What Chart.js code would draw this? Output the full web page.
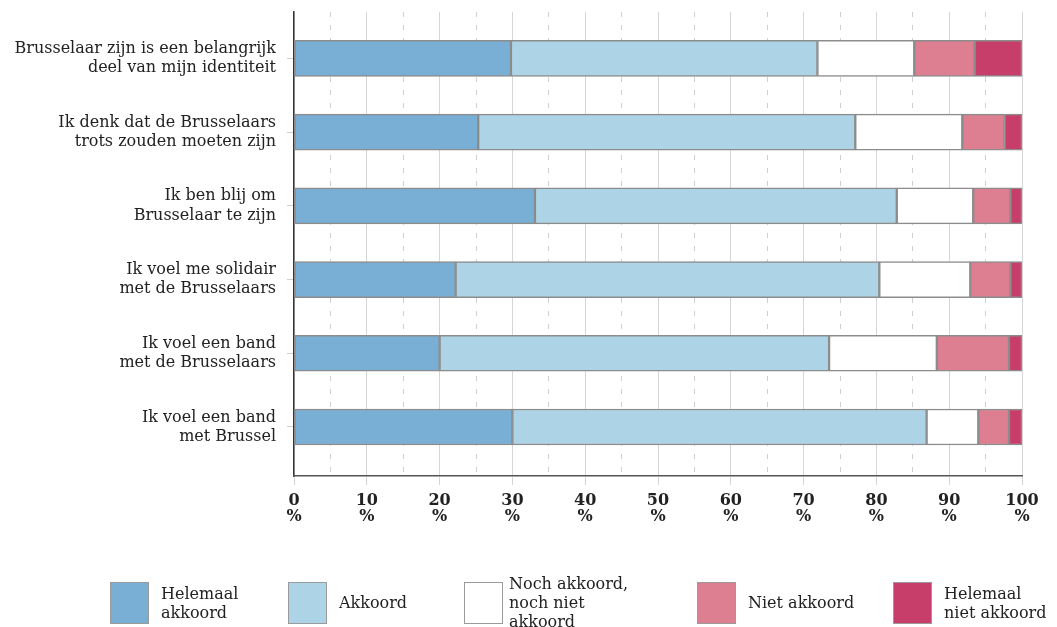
<!DOCTYPE html>
<html>
<head>
<meta charset="utf-8">
<script src="https://cdn.jsdelivr.net/npm/chart.js@4"></script>
<style>
  html, body { margin: 0; padding: 0; background: #fff; }
  #wrap { position: relative; width: 1057px; height: 627px; }
  #legend { position: absolute; left: 0; top: 0; width: 1057px; height: 627px; pointer-events: none; }
  .item { position: absolute; top: 581px; display: flex; align-items: center; height: 43px; }
  .box { width: 39px; height: 42px; border: 1px solid #9a9a9a; box-sizing: border-box; flex: none; }
  .txt { margin-left: 12px; font-family: "DejaVu Serif", serif; font-size: 16px; line-height: 19px; color: #222; }
</style>
</head>
<body>
<div id="wrap">
  <canvas id="chart"></canvas>
  <div id="legend"></div>
</div>
<script>
const statements = [
  ["Brusselaar zijn is een belangrijk", "deel van mijn identiteit"],
  ["Ik denk dat de Brusselaars", "trots zouden moeten zijn"],
  ["Ik ben blij om", "Brusselaar te zijn"],
  ["Ik voel me solidair", "met de Brusselaars"],
  ["Ik voel een band", "met de Brusselaars"],
  ["Ik voel een band", "met Brussel"]
];

const seriesNames = [
  ["Helemaal", "akkoord"],
  ["Akkoord"],
  ["Noch akkoord,", "noch niet", "akkoord"],
  ["Niet akkoord"],
  ["Helemaal", "niet akkoord"]
];

const helemaalAkkoord = [29.8, 25.3, 33.1, 22.2, 20.0, 30.0];
const akkoord = [42.1, 51.8, 49.7, 58.2, 53.5, 56.9];
const neutraal = [13.3, 14.7, 10.5, 12.5, 14.8, 7.1];
const nietAkkoord = [8.3, 5.8, 5.1, 5.5, 9.9, 4.2];
const helemaalNiet = [6.5, 2.4, 1.6, 1.6, 1.8, 1.8];

const xTicks = [0, 10, 20, 30, 40, 50, 60, 70, 80, 90, 100];

const colors = ["#79aed5", "#acd4e6", "#ffffff", "#dd7f91", "#c73e6a"];
const legendLeft = [110, 288, 464, 697, 893];

const serif = "'DejaVu Serif', serif";

const allSeries = [helemaalAkkoord, akkoord, neutraal, nietAkkoord, helemaalNiet];

const datasets = allSeries.map((vals, k) => ({
  label: seriesNames[k].join(" "),
  data: vals.map((v, i) => ({ x: v, y: i })),
  backgroundColor: colors[k],
  borderColor: "#8c8c8c",
  borderWidth: 1.5,
  borderSkipped: false,
  barThickness: 36
}));

new Chart(document.getElementById("chart"), {
  type: "bar",
  data: { datasets },
  options: {
    indexAxis: "y",
    responsive: true,
    maintainAspectRatio: false,
    animation: false,
    layout: { padding: { top: 12, right: 35, bottom: 0, left: 0 } },
    plugins: { legend: { display: false }, tooltip: { enabled: false } },
    scales: {
      y: {
        type: "linear",
        reverse: true,
        stacked: true,
        offset: false,
        min: -0.63,
        max: 5.665,
        afterBuildTicks: (scale) => { scale.ticks = statements.map((_, i) => ({ value: i })); },
        afterFit: (scale) => {
          scale.width = 294;
          // labels sit well inside the plot, no extra room needed above/below
          scale.paddingTop = 0;
          scale.paddingBottom = 0;
        },
        ticks: {
          callback: (v) => statements[v] || "",
          font: { family: serif, size: 16, lineHeight: 1.2 },
          color: "#222",
          padding: 11
        },
        grid: { offset: false, drawOnChartArea: false, drawTicks: true, tickLength: 7, tickColor: "#cfcfcf", tickWidth: 1 },
        border: { display: true, color: "#333", width: 1.5 }
      },
      x: {
        type: "linear",
        stacked: true,
        min: 0,
        max: 100,
        afterBuildTicks: (scale) => { scale.ticks = xTicks.map(v => ({ value: v })); },
        afterFit: (scale) => { scale.height = 151; },
        ticks: {
          autoSkip: false,
          maxRotation: 0,
          callback: (v) => [String(v), "%"],
          font: { family: serif, size: 16, weight: "bold", lineHeight: 1.05 },
          color: "#222",
          padding: 7
        },
        grid: { color: "#d6d6d6", lineWidth: 1, tickLength: 9, tickColor: "#d6d6d6" },
        border: { display: true, color: "#555", width: 1.5 }
      },
      x2: {
        type: "linear",
        position: "top",
        min: 0,
        max: 100,
        afterBuildTicks: (scale) => { scale.ticks = xTicks.slice(0, -1).map(v => ({ value: v + 5 })); },
        afterFit: (scale) => { scale.height = 0; },
        ticks: { display: false },
        grid: { color: "#cfcfcf", lineWidth: 1, drawTicks: false },
        border: { display: false, dash: [5, 8] }
      }
    }
  }
});

// legend below the plot, built from the series names and colours
const legendEl = document.getElementById("legend");
seriesNames.forEach((lines, k) => {
  const item = document.createElement("div");
  item.className = "item";
  item.style.left = legendLeft[k] + "px";
  const box = document.createElement("div");
  box.className = "box";
  box.style.background = colors[k];
  const txt = document.createElement("div");
  txt.className = "txt";
  txt.innerHTML = lines.join("<br>");
  if (k === 2) txt.style.marginLeft = "6px";
  item.appendChild(box);
  item.appendChild(txt);
  legendEl.appendChild(item);
});
</script>
</body>
</html>
